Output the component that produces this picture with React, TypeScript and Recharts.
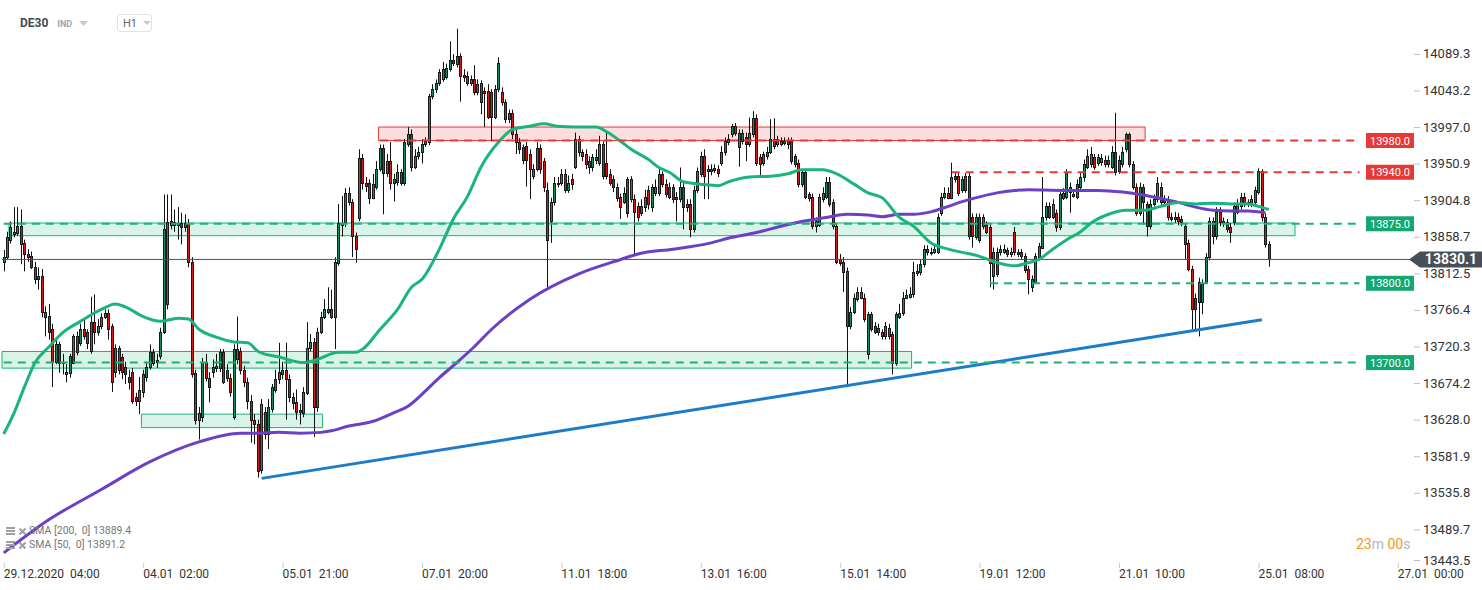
import React from 'react'
import { ComposedChart, Bar, Line, XAxis, YAxis, ReferenceLine, ReferenceArea } from 'recharts'

document.body.style.margin = '0'

// H1 candles, [open, high, low, close], one per hour from 29.12.2020 04:00
const CANDLES: [number, number, number, number][] = [
  [13827,13842,13815,13833],[13833,13865,13830,13858],[13855,13878,13850,13871],[13862,13896,13858,13865],[13864,13896,13860,13872],[13872,13893,13824,13849],
  [13851,13855,13815,13837],[13837,13843,13827,13833],[13834,13840,13818,13820],[13820,13827,13799,13805],[13805,13820,13792,13809],[13809,13818,13757,13764],
  [13764,13771,13733,13757],[13759,13774,13729,13739],[13742,13749,13669,13701],[13701,13729,13698,13723],[13723,13726,13687,13700],[13700,13711,13685,13701],
  [13685,13698,13675,13688],[13687,13711,13681,13708],[13700,13736,13698,13733],[13733,13739,13709,13713],[13725,13749,13721,13742],[13742,13755,13729,13733],
  [13738,13742,13717,13725],[13714,13783,13711,13751],[13751,13786,13723,13739],[13739,13755,13734,13746],[13746,13762,13742,13758],[13758,13767,13755,13763],
  [13763,13767,13729,13742],[13746,13749,13663,13676],[13688,13723,13681,13719],[13718,13721,13685,13691],[13707,13711,13679,13688],[13695,13701,13673,13685],
  [13682,13691,13666,13675],[13688,13693,13648,13651],[13656,13662,13645,13651],[13651,13682,13635,13666],[13663,13691,13656,13685],[13682,13701,13676,13695],
  [13695,13723,13691,13713],[13700,13717,13696,13713],[13701,13711,13693,13703],[13708,13744,13704,13739],[13738,13912,13736,13868],[13774,13912,13767,13877],
  [13873,13912,13868,13878],[13877,13893,13865,13873],[13873,13896,13855,13876],[13876,13889,13849,13871],[13871,13887,13865,13876],[13876,13881,13820,13827],
  [13827,13833,13681,13685],[13687,13691,13622,13628],[13628,13644,13603,13637],[13631,13706,13625,13701],[13701,13711,13676,13681],[13681,13688,13650,13669],
  [13688,13704,13681,13695],[13693,13711,13688,13696],[13693,13717,13688,13713],[13713,13717,13673,13676],[13691,13698,13676,13681],[13681,13686,13657,13663],
  [13631,13723,13628,13717],[13704,13758,13698,13717],[13714,13719,13685,13691],[13691,13696,13669,13675],[13675,13681,13641,13651],[13651,13659,13599,13628],
  [13628,13635,13597,13622],[13622,13628,13555,13563],[13565,13654,13560,13648],[13638,13644,13603,13610],[13610,13654,13591,13644],[13641,13673,13637,13669],
  [13666,13691,13662,13679],[13679,13725,13673,13688],[13685,13701,13679,13691],[13691,13725,13628,13679],[13679,13685,13650,13656],[13656,13662,13641,13649],
  [13650,13666,13628,13638],[13638,13648,13622,13640],[13637,13669,13631,13663],[13662,13751,13659,13719],[13719,13736,13714,13726],[13726,13731,13606,13644],
  [13644,13744,13638,13739],[13739,13764,13736,13758],[13758,13780,13755,13767],[13764,13795,13761,13768],[13768,13792,13755,13758],[13758,13833,13717,13827],
  [13826,13900,13822,13876],[13873,13910,13859,13876],[13876,13920,13871,13914],[13914,13921,13898,13902],[13902,13906,13833,13859],[13859,13864,13826,13843],
  [13882,13969,13878,13958],[13958,13963,13918,13926],[13926,13934,13915,13923],[13927,13931,13900,13908],[13908,13938,13906,13925],[13922,13954,13918,13944],
  [13944,13975,13941,13971],[13971,13975,13887,13939],[13939,13963,13934,13954],[13954,13978,13918,13927],[13927,13938,13903,13931],[13928,13950,13923,13940],
  [13940,13944,13923,13927],[13927,13982,13923,13978],[13976,13997,13972,13988],[13988,13994,13941,13947],[13947,13969,13944,13960],[13960,13972,13956,13965],
  [13965,13982,13951,13976],[13976,13984,13972,13979],[13978,14039,13974,14036],[14036,14051,14032,14045],[14045,14057,14040,14053],[14053,14070,14049,14067],
  [14057,14079,14054,14070],[14060,14077,14057,14071],[14070,14105,14067,14082],[14081,14089,14074,14078],[14076,14121,14072,14086],[14086,14090,14029,14061],
  [14063,14070,14054,14060],[14061,14067,14049,14053],[14053,14062,14049,14057],[14057,14075,14037,14041],[14041,14057,14037,14051],[14052,14056,14013,14029],
  [14042,14047,13997,14040],[14042,14051,14007,14010],[14041,14045,13979,14010],[14010,14050,14007,14045],[14045,14085,14041,14078],[14041,14047,14024,14028],
  [14028,14032,14002,14007],[14015,14019,14002,14007],[14015,14019,13982,13988],[13988,13994,13963,13978],[13978,13983,13963,13969],[13972,13975,13950,13956],
  [13973,13978,13922,13956],[13963,13969,13906,13944],[13935,13950,13931,13944],[13944,13978,13941,13971],[13971,13975,13938,13944],[13954,13958,13915,13922],
  [13918,13927,13795,13855],[13878,13908,13851,13902],[13902,13934,13898,13927],[13925,13934,13921,13927],[13927,13944,13923,13938],[13938,13944,13914,13918],
  [13918,13936,13914,13927],[13931,13938,13918,13925],[13947,13990,13944,13982],[13982,13986,13960,13965],[13965,13969,13954,13960],[13963,13969,13944,13950],
  [13954,13960,13938,13946],[13946,13963,13941,13959],[13956,13969,13950,13959],[13952,13986,13948,13976],[13976,13979,13931,13935],[13952,13990,13931,13935],
  [13938,13944,13923,13927],[13931,13936,13915,13921],[13922,13926,13903,13908],[13909,13913,13881,13896],[13903,13921,13900,13914],[13931,13934,13883,13889],
  [13906,13935,13902,13931],[13906,13912,13837,13890],[13897,13902,13878,13884],[13889,13906,13885,13897],[13896,13918,13890,13909],[13918,13923,13893,13900],
  [13896,13925,13890,13921],[13914,13931,13910,13921],[13914,13944,13910,13938],[13938,13941,13921,13925],[13925,13931,13908,13912],[13922,13927,13906,13909],
  [13921,13925,13901,13906],[13909,13915,13878,13906],[13906,13946,13902,13922],[13922,13927,13868,13896],[13896,13906,13890,13900],[13900,13906,13858,13868],
  [13868,13923,13864,13918],[13918,13946,13914,13941],[13938,13966,13934,13960],[13960,13969,13906,13935],[13941,13949,13906,13944],[13941,13950,13936,13944],
  [13943,13950,13939,13945],[13944,13949,13934,13939],[13952,13973,13948,13966],[13965,13984,13961,13979],[13978,13988,13974,13982],[13988,14001,13984,13998],
  [13998,14002,13986,13990],[13972,13994,13947,13990],[13979,13994,13975,13990],[13985,13990,13954,13975],[13975,14009,13972,13990],[13988,14017,13984,14009],
  [14008,14013,13948,13952],[13959,13963,13934,13950],[13952,13966,13948,13963],[13960,13972,13956,13966],[13966,14007,13963,13982],[13982,14008,13969,13973],
  [13976,13986,13972,13982],[13976,13984,13973,13979],[13977,13984,13974,13979],[13979,13984,13969,13976],[13979,13984,13950,13954],[13960,13963,13946,13950],
  [13952,13956,13921,13925],[13925,13944,13921,13940],[13940,13944,13906,13909],[13912,13915,13903,13908],[13909,13913,13868,13872],[13872,13883,13864,13878],
  [13874,13913,13871,13909],[13906,13921,13902,13914],[13909,13934,13906,13928],[13928,13934,13896,13900],[13902,13906,13868,13872],[13872,13876,13824,13827],
  [13830,13837,13822,13826],[13827,13833,13789,13814],[13815,13820,13669,13746],[13746,13770,13742,13764],[13764,13787,13761,13782],[13780,13795,13777,13789],
  [13782,13795,13780,13789],[13782,13787,13751,13755],[13711,13764,13704,13761],[13761,13764,13739,13742],[13746,13751,13736,13739],[13738,13749,13734,13744],
  [13738,13742,13729,13733],[13733,13751,13729,13746],[13744,13749,13729,13734],[13736,13739,13685,13700],[13700,13764,13696,13761],[13758,13774,13755,13763],
  [13763,13789,13759,13782],[13782,13792,13780,13785],[13783,13795,13781,13786],[13786,13827,13782,13814],[13813,13824,13809,13815],[13814,13830,13810,13824],
  [13824,13848,13820,13843],[13843,13848,13835,13839],[13839,13845,13835,13840],[13839,13849,13837,13843],[13840,13888,13837,13884],[13889,13914,13885,13909],
  [13909,13921,13906,13914],[13914,13921,13906,13908],[13908,13952,13906,13934],[13935,13939,13927,13931],[13935,13939,13910,13914],[13918,13935,13914,13931],
  [13918,13939,13914,13935],[13935,13939,13855,13859],[13884,13888,13845,13859],[13858,13888,13855,13884],[13884,13888,13851,13855],[13872,13887,13868,13883],
  [13874,13878,13862,13865],[13871,13874,13795,13826],[13809,13845,13792,13840],[13840,13845,13808,13812],[13839,13848,13835,13843],[13840,13849,13837,13843],
  [13842,13845,13833,13837],[13837,13845,13833,13840],[13865,13871,13835,13839],[13837,13843,13833,13839],[13839,13843,13830,13834],[13834,13838,13813,13817],
  [13818,13822,13786,13805],[13795,13810,13789,13805],[13802,13838,13799,13834],[13833,13851,13829,13847],[13845,13934,13843,13884],[13883,13902,13879,13897],
  [13898,13902,13881,13884],[13884,13906,13881,13900],[13889,13893,13865,13871],[13871,13915,13867,13912],[13908,13920,13905,13914],[13909,13944,13906,13940],
  [13915,13927,13889,13922],[13910,13918,13908,13912],[13909,13931,13906,13925],[13922,13940,13918,13934],[13934,13956,13928,13950],[13947,13969,13944,13960],
  [13950,13972,13946,13963],[13959,13963,13943,13946],[13952,13963,13948,13959],[13953,13963,13948,13958],[13950,13961,13946,13956],[13956,13961,13946,13950],
  [13947,13973,13944,13966],[13965,14015,13936,13940],[13956,13961,13938,13941],[13950,13972,13946,13966],[13969,13990,13965,13988],[13988,13990,13946,13950],
  [13950,13954,13918,13922],[13922,13926,13885,13889],[13889,13927,13885,13922],[13921,13925,13874,13902],[13900,13903,13859,13872],[13872,13906,13868,13900],
  [13900,13912,13897,13906],[13906,13934,13902,13927],[13922,13927,13898,13902],[13906,13911,13896,13902],[13906,13910,13879,13883],[13884,13889,13878,13881],
  [13881,13890,13876,13884],[13884,13889,13873,13878],[13881,13885,13872,13877],[13872,13876,13830,13849],[13851,13855,13815,13818],[13818,13822,13742,13767],
  [13782,13787,13739,13767],[13776,13807,13733,13802],[13776,13805,13761,13799],[13802,13838,13799,13833],[13833,13883,13829,13878],[13878,13883,13849,13859],
  [13859,13896,13855,13890],[13890,13896,13872,13877],[13878,13883,13871,13876],[13877,13881,13864,13868],[13871,13876,13851,13865],[13877,13902,13873,13897],
  [13890,13906,13887,13900],[13897,13914,13893,13909],[13909,13914,13896,13900],[13900,13906,13896,13902],[13900,13911,13896,13906],[13903,13922,13900,13918],
  [13915,13945,13912,13941],[13941,13944,13878,13883],[13884,13888,13845,13849],[13849,13853,13821,13830.1],
]

// moving averages, [candle index, value]
const SMA50: [number, number][] = [
  [0,13610],[3,13637],[6,13670],[9,13700],[13,13720],[17,13738],[22,13752],[28,13767],[32,13774],[35,13770],[40,13758],[45,13752],
  [50,13756],[53,13755],[56,13742],[61,13732],[66,13726],[70,13725],[73,13714],[79,13707],[86,13700],[90,13704],[96,13713],[101,13713],
  [103,13717],[108,13742],[113,13767],[117,13795],[120,13805],[125,13843],[129,13881],[133,13909],[137,13947],[142,13978],[146,13994],
  [151,13998],[155,14001],[159,13998],[164,13997],[170,13997],[173,13991],[177,13979],[180,13969],[185,13956],[188,13946],[191,13940],
  [195,13928],[200,13925],[205,13923],[208,13928],[214,13934],[220,13935],[225,13938],[229,13943],[235,13943],[239,13938],[244,13925],
  [248,13914],[252,13908],[257,13883],[261,13872],[266,13851],[271,13843],[275,13839],[280,13834],[285,13826],[290,13822],[294,13826],
  [297,13830],[301,13843],[305,13855],[309,13865],[312,13876],[317,13887],[322,13892],[327,13892],[332,13897],[337,13902],[342,13900],
  [347,13901],[352,13900],[357,13900],[360,13897],[363,13893],
]
const SMA200: [number, number][] = [
  [0,13460],[13,13502],[28,13540],[42,13575],[56,13600],[68,13611],[73,13611],[79,13612],[85,13611],[91,13612],[94,13614],[99,13620],
  [106,13626],[112,13637],[116,13645],[120,13660],[125,13681],[130,13700],[135,13720],[140,13742],[151,13780],[165,13812],[177,13830],
  [182,13837],[192,13843],[202,13850],[209,13858],[216,13864],[223,13872],[228,13877],[236,13883],[242,13887],[248,13886],[252,13884],
  [257,13887],[261,13887],[266,13890],[271,13897],[275,13903],[280,13909],[285,13914],[290,13917],[294,13918],[304,13917],[314,13917],
  [321,13915],[326,13912],[333,13906],[337,13902],[342,13896],[347,13892],[352,13891],[357,13891],[362,13889],
]
const TREND: [number, number][] = [[74, 13554], [361, 13754]]

const LAST_PRICE = 13830.1
const RESISTANCE = [{ value: 13980, from: 108 }, { value: 13940, from: 272 }]
const SUPPORT = [{ value: 13875, from: 0 }, { value: 13800, from: 283 }, { value: 13700, from: 0 }]
const GREEN_ZONES = [
  { from: 2, to: 370, low: 13860, high: 13876 },
  { from: 0, to: 260, low: 13693, high: 13714 },
  { from: 40, to: 91, low: 13618, high: 13635 },
]
const RED_ZONES = [{ from: 108, to: 327, low: 13980, high: 13997 }]

const X_LABELS = ['29.12.2020  04:00', '04.01  02:00', '05.01  21:00', '07.01  20:00', '11.01  18:00', '13.01  16:00',
  '15.01  14:00', '19.01  12:00', '21.01  10:00', '25.01  08:00', '27.01  00:00']
const Y_TICKS = [14089.3, 14043.2, 13997.0, 13950.9, 13904.8, 13858.7, 13812.5, 13766.4, 13720.3, 13674.2, 13628.0,
  13581.9, 13535.8, 13489.7, 13443.5]
const SMA_LEGEND = ['SMA [200,  0] 13889.4', 'SMA [50,  0] 13891.2']

const SLOT_COUNT = 404
const LEVEL_END = 389

const GREEN = '#19b27b'
const RED = '#e53935'
const FONT = 'Roboto, sans-serif'

const rows: any[] = Array.from({ length: SLOT_COUNT }, (_, i) => ({ i }))
CANDLES.forEach(([o, h, l, c], i) => Object.assign(rows[i], { o, h, l, c, range: [l, h] }))
SMA50.forEach(([i, v]) => { rows[i].sma50 = v })
SMA200.forEach(([i, v]) => { rows[i].sma200 = v })
TREND.forEach(([i, v]) => { rows[i].trend = v })

function Candle(props: any) {
  const { x, y, width, height, payload } = props
  if (!payload || payload.o == null) return null
  const { o, h, l, c } = payload
  const top = Math.min(y, y + height)
  const k = h - l > 0 ? Math.abs(height) / (h - l) : 0
  const yOf = (v: number) => top + (h - v) * k
  const px = Math.round(x + width / 2)
  const bt = Math.round(yOf(Math.max(o, c)))
  const bb = Math.round(yOf(Math.min(o, c)))
  const up = c >= o
  return (
    <g>
      <line x1={px + 0.5} x2={px + 0.5} y1={yOf(h)} y2={yOf(l)} stroke="#111" strokeWidth={1} />
      <rect x={px - 0.5} y={bt + 0.5} width={2} height={Math.max(bb - bt, 1)}
        fill={up ? '#178a5e' : '#d3181f'} stroke="#1a1a1a" strokeWidth={1} />
    </g>
  )
}

function XTick({ x, y, payload }: any) {
  const label = X_LABELS[payload.value / 40]
  if (!label) return null
  return (
    <g>
      <line x1={x + 0.5} x2={x + 0.5} y1={y - 3} y2={y + 2} stroke="#c9c9c9" />
      <text x={x} y={y + 12} fontSize={12} fill="#333" fontFamily={FONT} xmlSpace="preserve" style={{ whiteSpace: 'pre' }}>{label}</text>
    </g>
  )
}

function YTick({ x, y, payload }: any) {
  const v = payload.value
  const yy = v === Y_TICKS[Y_TICKS.length - 1] ? y - 6 : y
  return (
    <g>
      <line x1={x + 4} x2={x + 10} y1={yy + 0.5} y2={yy + 0.5} stroke="#bdbdbd" />
      <text x={x + 13} y={yy} dy={4.5} fontSize={13} fill="#333" fontFamily={FONT}>{v.toFixed(1)}</text>
    </g>
  )
}

function PriceTag({ viewBox, text, fill }: any) {
  if (!viewBox) return null
  const right = viewBox.x + viewBox.width
  const y = viewBox.y
  return (
    <g>
      <rect x={right - 44} y={y - 7.5} width={48} height={15} fill={fill} />
      <text x={right - 20} y={y} dy={4} textAnchor="middle" fontSize={11} fill="#fff" fontFamily={FONT}>{text}</text>
    </g>
  )
}

function CurrentTag({ viewBox }: any) {
  if (!viewBox) return null
  const x = viewBox.x + viewBox.width
  const y = viewBox.y
  return (
    <g>
      <polygon points={`${x - 1},${y} ${x + 10},${y - 8} ${x + 72},${y - 8} ${x + 72},${y + 8} ${x + 10},${y + 8}`} fill="#46505a" />
      <text x={x + 41} y={y} dy={5} textAnchor="middle" fontSize={14} fontWeight={700} fill="#fff" fontFamily={FONT}>
        {LAST_PRICE.toFixed(1)}
      </text>
    </g>
  )
}

function ListIcon() {
  return (
    <svg width={9} height={8} style={{ marginRight: 4 }}>
      <rect x={0} y={0} width={9} height={2} fill="#a0a0a0" />
      <rect x={0} y={3} width={9} height={2} fill="#a0a0a0" />
      <rect x={0} y={6} width={9} height={2} fill="#a0a0a0" />
    </svg>
  )
}

function CrossIcon() {
  return (
    <svg width={7} height={7} style={{ marginRight: 3 }}>
      <line x1={0.5} y1={0.5} x2={6.5} y2={6.5} stroke="#a0a0a0" strokeWidth={2} />
      <line x1={6.5} y1={0.5} x2={0.5} y2={6.5} stroke="#a0a0a0" strokeWidth={2} />
    </svg>
  )
}

export default function App() {
  return (
    <div style={{ position: 'relative', width: 1482, height: 590, fontFamily: FONT, background: '#fff' }}>
      <ComposedChart width={1482} height={590} data={rows} margin={{ top: 0, right: 0, bottom: 0, left: 2 }}>
        <XAxis dataKey="i" type="category" interval={39} height={24} tickSize={0} tickMargin={0}
          axisLine={false} tickLine={false} tick={<XTick />} />
        <YAxis orientation="right" type="number" domain={[13443.5, 14157.2]} allowDataOverflow ticks={Y_TICKS}
          width={72} tickSize={0} tickMargin={0} axisLine={false} tickLine={false} tick={<YTick />} />

        {GREEN_ZONES.map((z, k) => (
          <ReferenceArea key={'g' + k} x1={z.from} x2={z.to} y1={z.low} y2={z.high}
            fill="#1bb97c" fillOpacity={0.17} stroke={GREEN} strokeWidth={1} strokeOpacity={1} />
        ))}
        {RED_ZONES.map((z, k) => (
          <ReferenceArea key={'r' + k} x1={z.from} x2={z.to} y1={z.low} y2={z.high}
            fill="#ee5a5a" fillOpacity={0.2} stroke={RED} strokeWidth={1} strokeOpacity={1} />
        ))}

        <ReferenceLine y={LAST_PRICE} stroke="#4a5159" strokeWidth={1} label={<CurrentTag />} />

        <Bar dataKey="range" barSize={3} shape={Candle} isAnimationActive={false} />

        <Line dataKey="sma200" type="monotone" stroke="#6b3fc6" strokeWidth={3} dot={false} activeDot={false}
          connectNulls isAnimationActive={false} />
        <Line dataKey="sma50" type="monotone" stroke="#1bb47d" strokeWidth={3} dot={false} activeDot={false}
          connectNulls isAnimationActive={false} />
        <Line dataKey="trend" type="linear" stroke="#1c7cc9" strokeWidth={3} dot={false} activeDot={false}
          connectNulls isAnimationActive={false} />

        {RESISTANCE.map(l => (
          <ReferenceLine key={'rl' + l.value} segment={[{ x: l.from, y: l.value }, { x: LEVEL_END, y: l.value }]}
            stroke={RED} strokeWidth={2} strokeDasharray="8 6" />
        ))}
        {SUPPORT.map(l => (
          <ReferenceLine key={'sl' + l.value} segment={[{ x: l.from, y: l.value }, { x: LEVEL_END, y: l.value }]}
            stroke={GREEN} strokeWidth={2} strokeDasharray="8 6" />
        ))}
        {RESISTANCE.map(l => (
          <ReferenceLine key={'rt' + l.value} y={l.value} stroke="none"
            label={<PriceTag text={l.value.toFixed(1)} fill="#e53935" />} />
        ))}
        {SUPPORT.map(l => (
          <ReferenceLine key={'st' + l.value} y={l.value} stroke="none"
            label={<PriceTag text={l.value.toFixed(1)} fill="#12a86f" />} />
        ))}
      </ComposedChart>

      <div style={{ position: 'absolute', left: 20, top: 16, display: 'flex', alignItems: 'center' }}>
        <span style={{ fontSize: 12, fontWeight: 700, color: '#3e4a55' }}>DE30</span>
        <span style={{ fontSize: 9, fontWeight: 700, color: '#9aa6b2', marginLeft: 9, marginTop: 2 }}>IND</span>
        <svg width={9} height={5} style={{ marginLeft: 7 }}><polygon points="0,0 9,0 4.5,5" fill="#c5cbd1" /></svg>
      </div>
      <div style={{ position: 'absolute', left: 117, top: 14, width: 33, height: 16, border: '1px solid #e2e2e2',
        borderRadius: 3, display: 'flex', alignItems: 'center' }}>
        <span style={{ fontSize: 11, color: '#666', marginLeft: 5 }}>H1</span>
        <svg width={8} height={4} style={{ marginLeft: 6 }}><polygon points="0,0 8,0 4,4" fill="#cacaca" /></svg>
      </div>

      <div style={{ position: 'absolute', left: 6, top: 524, fontSize: 10.5, color: '#777', lineHeight: '14px' }}>
        {SMA_LEGEND.map(t => (
          <div key={t} style={{ display: 'flex', alignItems: 'center', whiteSpace: 'pre' }}>
            <ListIcon /><CrossIcon /><span>{t}</span>
          </div>
        ))}
      </div>

      <div style={{ position: 'absolute', left: 1356, top: 536, fontSize: 14, whiteSpace: 'pre' }}>
        <span style={{ color: '#f7941d' }}>23</span><span style={{ color: '#b5b5b5' }}>m </span>
        <span style={{ color: '#f7941d' }}>00</span><span style={{ color: '#b5b5b5' }}>s</span>
      </div>
    </div>
  )
}
